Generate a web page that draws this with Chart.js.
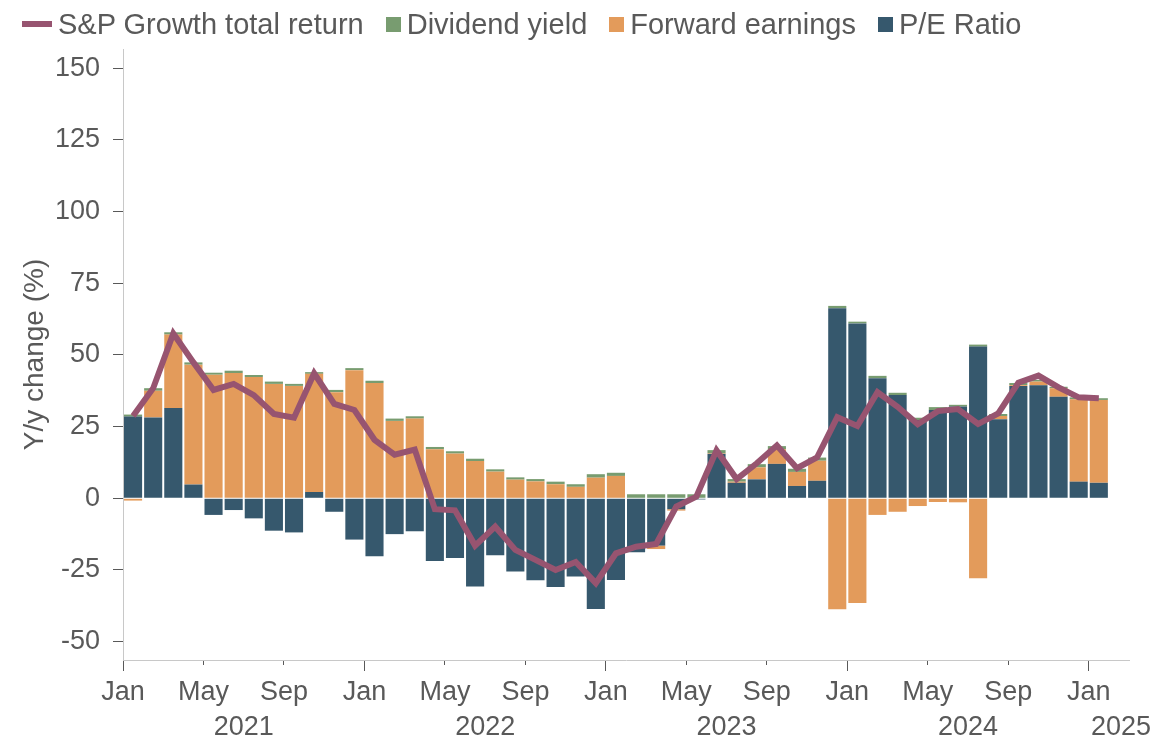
<!DOCTYPE html>
<html>
<head>
<meta charset="utf-8">
<script src="https://cdn.jsdelivr.net/npm/chart.js@4.4.1/dist/chart.umd.min.js"></script>
<style>
  html, body { margin: 0; padding: 0; background: #fff; }
  #wrap { position: relative; width: 1155px; height: 741px; }
  #chart { position: absolute; left: 0; top: 0; }
  #legend {
    position: absolute; left: 22px; top: 8px; display: flex; align-items: center;
    font: 29px 'Liberation Sans', Arial, sans-serif; line-height: 32px; color: #595959; white-space: nowrap;
  }
  .item { display: flex; align-items: center; margin-right: 22px; }
  .swatch { width: 15px; height: 15px; margin-right: 6px; }
  .swatch.line { width: 30px; height: 6px; }
</style>
</head>
<body>
<div id="wrap">
  <canvas id="chart" width="1155" height="741"></canvas>
  <div id="legend"></div>
</div>
<script>
// months Jan 2021 .. Jan 2025
const monthNames = ['Jan', 'Feb', 'Mar', 'Apr', 'May', 'Jun', 'Jul', 'Aug', 'Sep', 'Oct', 'Nov', 'Dec'];
const years = ['2021', '2022', '2023', '2024', '2025'];
const yTicks = [-50, -25, 0, 25, 50, 75, 100, 125, 150];

// y/y change, %
const peRatio = [
  28.5, 28.2, 31.5, 4.8, -5.8, -4.1, -7.0, -11.3, -11.9, 2.2, -4.7, -14.4,
  -20.2, -12.5, -11.5, -21.9, -20.8, -30.8, -19.9, -25.5, -28.6, -30.9, -27.3, -38.6,
  -28.5, -18.8, -16.5, -3.8, -0.4, 15.5, 5.4, 6.6, 12.0, 4.3, 6.1, 66.3,
  61.0, 41.9, 36.0, 27.3, 30.8, 32.0, 52.9, 27.6, 39.2, 39.4, 35.4, 5.8,
  5.4
];
const fwdEarnings = [
  -0.8, 9.3, 25.6, 41.8, 43.1, 43.7, 42.3, 39.9, 39.2, 41.2, 37.0, 44.7,
  40.2, 27.0, 27.8, 17.1, 15.6, 13.0, 9.3, 6.5, 5.9, 4.9, 4.0, 7.2,
  7.8, 0, -1.2, -0.5, 0, 0.2, 0.4, 4.2, 5.1, 4.9, 7.0, -38.7,
  -36.5, -5.8, -4.7, -2.7, -1.3, -1.4, -27.9, 1.1, 0.3, 1.3, 3.0, 28.7,
  28.9
];
const divYield = [
  0.7, 0.9, 0.8, 0.8, 0.7, 0.8, 0.7, 0.8, 0.7, 0.6, 0.8, 0.7,
  0.8, 0.8, 0.8, 0.8, 0.8, 0.8, 0.8, 0.8, 0.8, 0.9, 0.9, 1.2,
  1.1, 1.4, 1.4, 1.4, 1.4, 1.1, 0.9, 1.1, 1.1, 1.1, 1.1, 0.8,
  0.6, 0.8, 0.8, 0.8, 1.0, 0.6, 0.7, 0.7, 0.7, 0.6, 0.5, 0.7,
  0.6
];
const totalReturn = [
  28.7, 38.4, 57.5, 47.4, 37.8, 39.9, 36.0, 29.4, 28.1, 43.6, 32.9, 30.8,
  20.4, 15.2, 17.0, -3.8, -4.2, -16.5, -9.9, -18.0, -21.5, -25.0, -22.2, -29.6,
  -19.2, -16.9, -15.9, -2.9, 0.6, 16.7, 6.7, 12.2, 18.4, 10.5, 14.3, 28.3,
  25.2, 37.0, 31.9, 25.8, 30.4, 31.1, 25.9, 29.6, 40.3, 42.8, 38.7, 35.2,
  34.9
];

const X_MAX = 50;
const FONT = "'Liberation Sans', Arial, sans-serif";
const TEXT = '#595959';
const AXIS = '#c8c8c8';

const COLORS = {
  total: '#975470',
  div: '#789c70',
  fwd: '#e39b5b',
  pe: '#36586d'
};

// bars sit in the middle of their month
const toPoints = arr => arr.map((v, i) => ({ x: i + 0.5, y: v }));

const barSet = (label, data, color) => ({
  type: 'bar',
  label: label,
  data: toPoints(data),
  backgroundColor: color,
  borderWidth: 0,
  categoryPercentage: 1,
  barPercentage: 0.9,
  order: 1
});

const datasets = [
  {
    type: 'line',
    label: 'S&P Growth total return',
    data: toPoints(totalReturn),
    borderColor: COLORS.total,
    backgroundColor: COLORS.total,
    borderWidth: 6,
    pointRadius: 0,
    tension: 0,
    fill: false,
    stack: 'total',
    order: 0
  },
  barSet('P/E Ratio', peRatio, COLORS.pe),
  barSet('Forward earnings', fwdEarnings, COLORS.fwd),
  barSet('Dividend yield', divYield, COLORS.div)
];

const tickFont = { family: FONT, size: 27 };

new Chart(document.getElementById('chart').getContext('2d'), {
  type: 'bar',
  data: { datasets: datasets },
  options: {
    responsive: false,
    animation: false,
    devicePixelRatio: 1,
    layout: { padding: { top: 49, left: 0, right: 26, bottom: 0 } },
    plugins: {
      legend: { display: false },
      tooltip: { enabled: false }
    },
    scales: {
      x: {
        type: 'linear',
        position: 'bottom',
        min: 0,
        max: X_MAX,
        offset: false,
        stacked: true,
        weight: 1,
        grid: {
          display: true,
          offset: false,
          drawOnChartArea: false,
          tickLength: 11,
          tickColor: TEXT,
          // Jan gets the long tick, May/Sep a short one
          tickBorderDash: c => (c.tick && c.tick.value % 12 === 0) ? [] : [4, 50]
        },
        border: { color: AXIS },
        ticks: {
          color: TEXT,
          font: tickFont,
          padding: 5,
          maxRotation: 0,
          autoSkip: false,
          callback: v => monthNames[v % 12]
        },
        afterBuildTicks: s => {
          const t = [];
          for (let i = 0; i < totalReturn.length; i += 4) t.push({ value: i });
          s.ticks = t;
        },
        afterFit: s => { s.height = 46; s.paddingLeft = 0; s.paddingRight = 0; }
      },
      x2: {
        type: 'linear',
        position: 'bottom',
        min: 0,
        max: X_MAX,
        offset: false,
        weight: 2,
        grid: { display: false, drawTicks: false },
        border: { display: false },
        ticks: {
          color: TEXT,
          font: tickFont,
          padding: 5,
          maxRotation: 0,
          autoSkip: false,
          callback: (v, i) => years[i]
        },
        afterBuildTicks: s => {
          s.ticks = years.map((y, k) => ({ value: Math.min(12 * k + 6, X_MAX - 0.4) }));
        },
        afterFit: s => { s.height = 35; s.paddingLeft = 0; s.paddingRight = 0; }
      },
      y: {
        min: -56.4,
        max: 156.7,
        stacked: true,
        grid: { drawOnChartArea: false, tickLength: 10, tickColor: TEXT },
        border: { color: AXIS },
        ticks: { color: TEXT, font: tickFont, padding: 13 },
        afterBuildTicks: s => { s.ticks = yTicks.map(v => ({ value: v })); },
        title: {
          display: true,
          text: 'Y/y change (%)',
          color: TEXT,
          font: { family: FONT, size: 28 },
          padding: { top: 18, bottom: 0 }
        },
        afterFit: s => { s.width = 123; s.paddingTop = 0; s.paddingBottom = 0; }
      }
    }
  }
});

// legend in the reference order
const legendOrder = [datasets[0], datasets[3], datasets[2], datasets[1]];
const legendEl = document.getElementById('legend');
legendOrder.forEach(ds => {
  const item = document.createElement('div');
  item.className = 'item';
  const sw = document.createElement('span');
  sw.className = 'swatch' + (ds.type === 'line' ? ' line' : '');
  sw.style.background = ds.type === 'line' ? ds.borderColor : ds.backgroundColor;
  const txt = document.createElement('span');
  txt.textContent = ds.label;
  item.appendChild(sw);
  item.appendChild(txt);
  legendEl.appendChild(item);
});
</script>
</body>
</html>
